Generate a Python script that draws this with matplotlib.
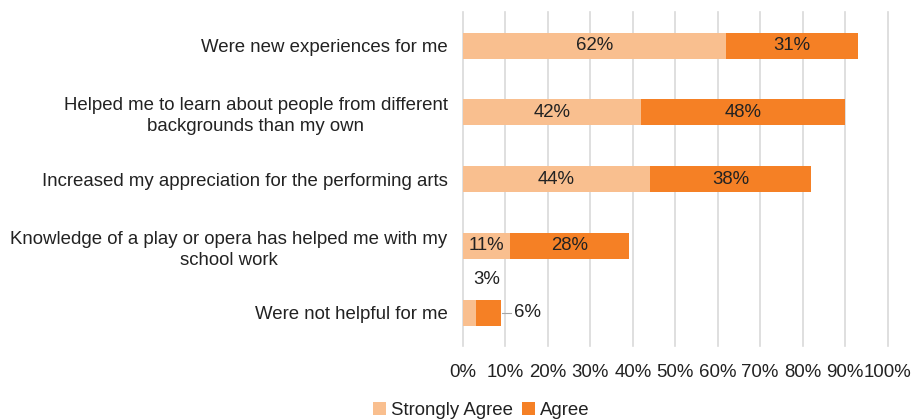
import matplotlib
matplotlib.use("Agg")
import matplotlib.pyplot as plt
import numpy as np

categories = [
    "Were new experiences for me",
    "Helped me to learn about people from different\nbackgrounds than my own",
    "Increased my appreciation for the performing arts",
    "Knowledge of a play or opera has helped me with my\nschool work",
    "Were not helpful for me",
]
strongly_agree = [62, 42, 44, 11, 3]
agree = [31, 48, 38, 28, 6]
series_names = ["Strongly Agree", "Agree"]
xticks = [0, 10, 20, 30, 40, 50, 60, 70, 80, 90, 100]

plt.rcParams['font.family'] = ['Liberation Sans', 'DejaVu Sans']
light = "#F9BF8F"
dark = "#F58025"
txt = "#222222"

fig = plt.figure(figsize=(9.15, 4.2), dpi=100)
ax = fig.add_axes([0.506, 0.176, 0.464, 0.795])

y = np.arange(len(categories))
h = 0.39
ax.barh(y, strongly_agree, height=h, color=light, label=series_names[0], zorder=3)
ax.barh(y, agree, left=strongly_agree, height=h, color=dark, label=series_names[1], zorder=3)

fs = 13.4
for i, (a, b) in enumerate(zip(strongly_agree, agree)):
    if i < len(categories) - 1:
        ax.text(a / 2, i, f"{a}%", ha="center", va="center", fontsize=fs, color=txt, zorder=4)
        ax.text(a + b / 2, i, f"{b}%", ha="center", va="center", fontsize=fs, color=txt, zorder=4)
    else:
        ax.text(a / 2 + 4.2, i - 0.49, f"{a}%", ha="center", va="center", fontsize=fs, color=txt, zorder=4)
        ax.plot([a + b + 0.1, a + b + 2.4], [i, i], color="#a6a6a6", lw=0.8, zorder=4)
        ax.text(a + b + 3.0, i, f"{b}%", ha="left", va="center", fontsize=fs, color=txt, zorder=4)

ax.set_xlim(0, 100)
ax.set_ylim(len(categories) - 0.5, -0.5)
ax.set_xticks(xticks)
ax.set_xticklabels([f"{t}%" for t in xticks], fontsize=fs, color=txt)
ax.set_yticks(y)
ax.set_yticklabels(categories, fontsize=fs, color=txt)
for lbl in ax.get_yticklabels():
    lbl.set_ha("right")
    lbl.set_multialignment("center")
    lbl.set_linespacing(1.3)
ax.tick_params(axis="y", length=0, pad=11)
ax.tick_params(axis="x", length=0, pad=13)

ax.grid(axis="x", color="#d9d9d9", lw=1.2, zorder=0)
for gl in ax.get_xgridlines():
    gl.set_clip_on(False)
for s in ax.spines.values():
    s.set_visible(False)

handles, labels = ax.get_legend_handles_labels()
fig.legend(handles, labels, loc="center", bbox_to_anchor=(0.526, 0.022), ncol=2, frameon=False,
           fontsize=fs, handlelength=0.7, handleheight=0.7, handletextpad=0.25, columnspacing=0.5,
           labelcolor=txt, borderaxespad=0)

fig.savefig("out.png", dpi=100)
